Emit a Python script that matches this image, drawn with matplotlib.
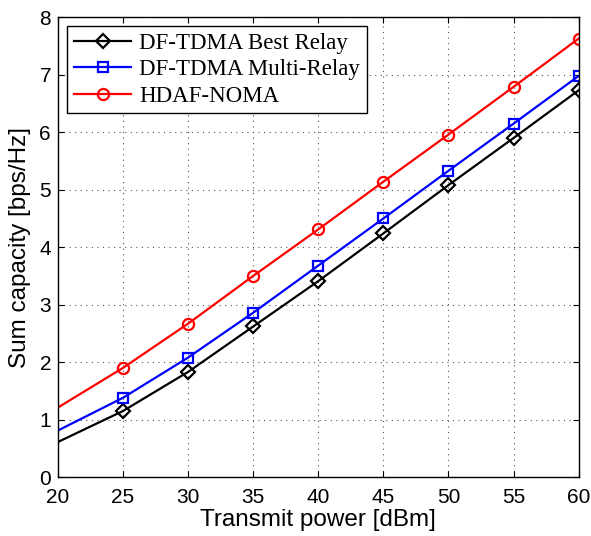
import matplotlib
matplotlib.use("Agg")
import matplotlib.pyplot as plt

power = [20, 25, 30, 35, 40, 45, 50, 55, 60]
best_relay = [0.61, 1.15, 1.83, 2.62, 3.41, 4.24, 5.08, 5.90, 6.73]
multi_relay = [0.81, 1.38, 2.08, 2.86, 3.68, 4.50, 5.33, 6.15, 6.98]
hdaf_noma = [1.21, 1.90, 2.67, 3.50, 4.31, 5.14, 5.96, 6.79, 7.63]
labels = ["DF-TDMA Best Relay", "DF-TDMA Multi-Relay", "HDAF-NOMA"]

plt.rcParams['font.family'] = ['Liberation Sans', 'DejaVu Sans']

fig = plt.figure(figsize=(5.91, 5.36), dpi=100)
ax = fig.add_axes([0.0981, 0.110, 0.881, 0.8577])

common = dict(linewidth=1.6, markerfacecolor='none', markeredgewidth=1.6,
              markevery=slice(1, None))
ax.plot(power, best_relay, color='black', marker='D', markersize=6.8, label=labels[0], **common)
ax.plot(power, multi_relay, color='#0000ff', marker='s', markersize=6.5, label=labels[1], **common)
ax.plot(power, hdaf_noma, color='#ff0000', marker='o', markersize=8, label=labels[2], **common)

ax.set_xlim(20, 60)
ax.set_ylim(0, 8)
ax.set_xticks(range(20, 61, 5))
ax.set_yticks(range(0, 9, 1))
ax.tick_params(direction='in', top=True, right=True, labelsize=15, length=4, width=0.8)
ax.tick_params(axis='x', pad=8)
ax.tick_params(axis='y', pad=5)
ax.grid(True, linestyle=(0, (1, 4)), color='#555555', linewidth=0.8)
for s in ax.spines.values():
    s.set_linewidth(1.0)

ax.set_xlabel("Transmit power [dBm]", fontsize=17.5, labelpad=1)
ax.set_ylabel("Sum capacity [bps/Hz]", fontsize=17.5, labelpad=6)

leg = ax.legend(loc='upper left', prop={'family': 'Liberation Serif', 'size': 16.5},
                fancybox=False, edgecolor='black', framealpha=1, borderaxespad=0.4,
                handlelength=2.5, borderpad=0.3, labelspacing=0.22,
                handletextpad=0.35, numpoints=1)
leg.get_frame().set_linewidth(1.0)
for h in leg.legend_handles:
    h.set_markevery([1])

fig.savefig("out.png", dpi=100)
